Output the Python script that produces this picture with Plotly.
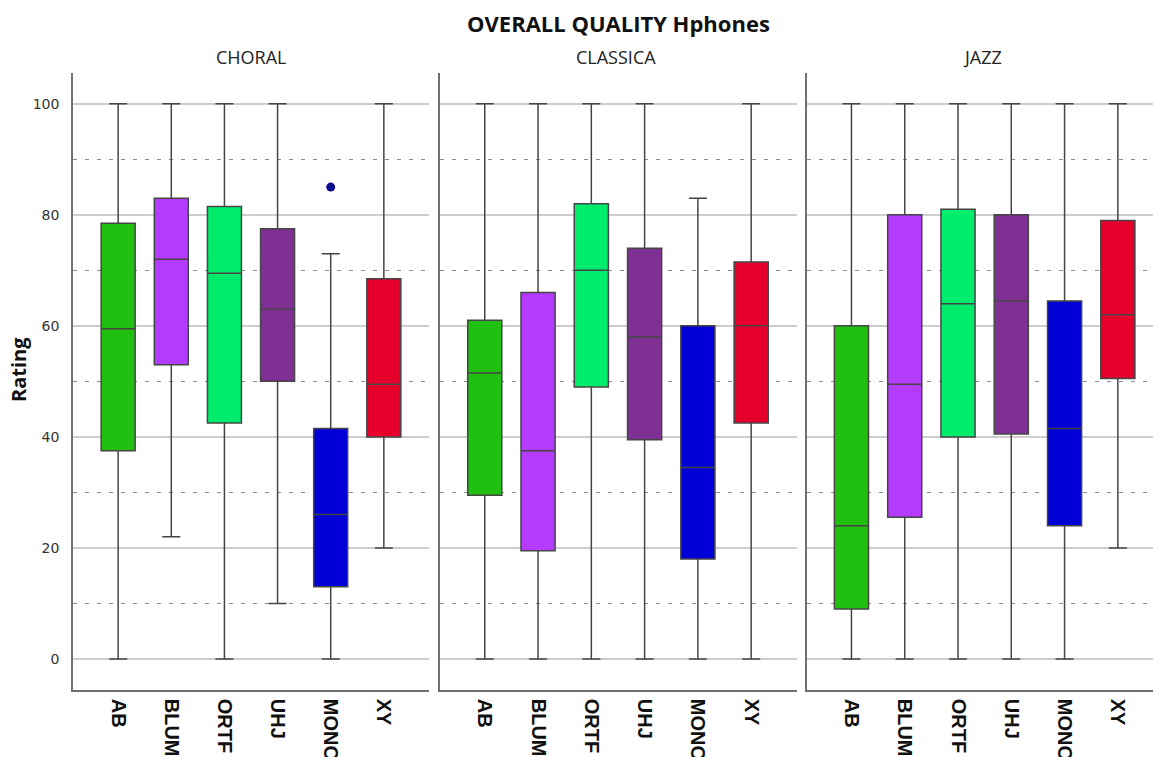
import plotly.graph_objects as go

# Box statistics per recording technique, one list per music genre
techniques = ["AB", "BLUM", "ORTF", "UHJ", "MONO", "XY"]
genres = ["CHORAL", "CLASSICA", "JAZZ"]
colors = ["#20bf10", "#b33cff", "#00ec6c", "#7f3094", "#0000d6", "#e8002c"]

# [lower whisker, Q1, median, Q3, upper whisker]
choral_lower = [0, 22, 0, 10, 0, 20]
choral_q1 = [37.5, 53, 42.5, 50, 13, 40]
choral_median = [59.5, 72, 69.5, 63, 26, 49.5]
choral_q3 = [78.5, 83, 81.5, 77.5, 41.5, 68.5]
choral_upper = [100, 100, 100, 100, 73, 100]

classica_lower = [0, 0, 0, 0, 0, 0]
classica_q1 = [29.5, 19.5, 49, 39.5, 18, 42.5]
classica_median = [51.5, 37.5, 70, 58, 34.5, 60]
classica_q3 = [61, 66, 82, 74, 60, 71.5]
classica_upper = [100, 100, 100, 100, 83, 100]

jazz_lower = [0, 0, 0, 0, 0, 20]
jazz_q1 = [9, 25.5, 40, 40.5, 24, 50.5]
jazz_median = [24, 49.5, 64, 64.5, 41.5, 62]
jazz_q3 = [60, 80, 81, 80, 64.5, 79]
jazz_upper = [100, 100, 100, 100, 100, 100]

# Outlier points: (genre, technique, value)
outlier_genre = ["CHORAL"]
outlier_technique = ["MONO"]
outlier_value = [85]

stats = {
    "CHORAL": (choral_lower, choral_q1, choral_median, choral_q3, choral_upper),
    "CLASSICA": (classica_lower, classica_q1, classica_median, classica_q3, classica_upper),
    "JAZZ": (jazz_lower, jazz_q1, jazz_median, jazz_q3, jazz_upper),
}

W, H = 1153, 757
def px(x):
    return x / W
def py(y):
    return 1 - y / H

x_domains = [(px(73), px(429)), (px(440), px(797)), (px(806.7), 1.0)]
x_ranges = [[-0.85, 5.85], [-0.84, 5.86], [-0.84, 5.66]]
y_domain = [py(690), py(73.3)]
y_range = [-5.6, 105.5]

fig = go.Figure()

for gi, genre in enumerate(genres):
    lo, q1, med, q3, hi = stats[genre]
    xa = "x" if gi == 0 else f"x{gi+1}"
    ya = "y" if gi == 0 else f"y{gi+1}"
    for ti, tech in enumerate(techniques):
        fig.add_trace(go.Box(
            x=[tech], q1=[q1[ti]], median=[med[ti]], q3=[q3[ti]],
            lowerfence=[lo[ti]], upperfence=[hi[ti]],
            width=0.64, whiskerwidth=0.53,
            fillcolor=colors[ti],
            line=dict(color="#454545", width=1.5),
            boxpoints=False, showlegend=False, hoverinfo="skip",
            xaxis=xa, yaxis=ya,
        ))

for g, t, v in zip(outlier_genre, outlier_technique, outlier_value):
    gi = genres.index(g)
    fig.add_trace(go.Scatter(
        x=[t], y=[v], mode="markers",
        marker=dict(color="#0a0a8c", size=9, line=dict(width=0)),
        showlegend=False, hoverinfo="skip",
        xaxis="x" if gi == 0 else f"x{gi+1}",
        yaxis="y" if gi == 0 else f"y{gi+1}",
    ))

layout = dict(
    width=W, height=H,
    margin=dict(l=0, r=0, t=0, b=0, autoexpand=False),
    paper_bgcolor="white", plot_bgcolor="white",
    boxmode="overlay",
)

for gi in range(3):
    sx = "" if gi == 0 else str(gi + 1)
    layout["xaxis" + sx] = dict(
        domain=list(x_domains[gi]), range=x_ranges[gi],
        categoryorder="array", categoryarray=techniques,
        anchor="y" + sx, showline=True, linecolor="#707070", linewidth=1.5,
        showgrid=False, zeroline=False, tickangle=90,
        ticks="outside", ticklen=3, tickcolor="rgba(0,0,0,0)",
        tickfont=dict(family="Liberation Sans, Arial", size=20, color="#111",
                      weight="bold"),
        automargin=False, fixedrange=True,
    )
    layout["yaxis" + sx] = dict(
        domain=y_domain, range=y_range, anchor="x" + sx,
        showline=True, linecolor="#707070", linewidth=1.5,
        tickvals=[0, 20, 40, 60, 80, 100],
        showticklabels=(gi == 0),
        ticks="outside", ticklen=9, tickcolor="rgba(0,0,0,0)",
        tickfont=dict(family="DejaVu Sans", size=14, color="#333"),
        showgrid=True, gridcolor="#cdcdcd", gridwidth=1.5,
        zeroline=False,
        minor=dict(tickvals=[10, 30, 50, 70, 90], showgrid=True,
                   gridcolor="#8c8c8c", gridwidth=1.3, griddash="4px,8px"),
        automargin=False, fixedrange=True,
    )

fig.update_layout(**layout)

annotations = [
    dict(text="<b>OVERALL QUALITY Hphones</b>", x=px(618), y=py(23),
         font=dict(family="Open Sans", size=22, color="#111")),
    dict(text="CHORAL", x=px(251), y=py(57),
         font=dict(family="Open Sans", size=18, color="#222")),
    dict(text="CLASSICA", x=px(616), y=py(57),
         font=dict(family="Open Sans", size=18, color="#222")),
    dict(text="JAZZ", x=px(983), y=py(57),
         font=dict(family="Open Sans", size=18, color="#222")),
    dict(text="<b>Rating</b>", x=px(18), y=py(370), textangle=-90,
         font=dict(family="Open Sans", size=20, color="#111")),
]
for a in annotations:
    fig.add_annotation(xref="paper", yref="paper", showarrow=False,
                       xanchor="center", yanchor="middle", **a)

fig.write_html("out.html")
